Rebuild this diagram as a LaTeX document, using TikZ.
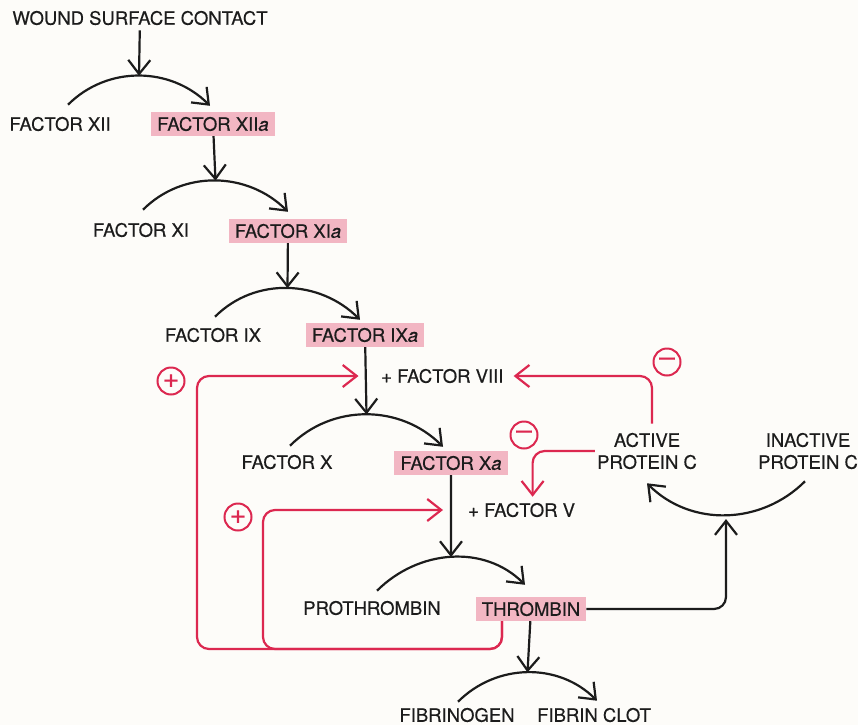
\documentclass[tikz,border=0pt]{standalone}
\usepackage{fontspec}
\setmainfont{TeX Gyre Heros}[FakeBold=0.35]
\usetikzlibrary{arrows.meta,positioning}
\definecolor{clotred}{HTML}{DC2850}
\definecolor{clotpink}{HTML}{F2B6C3}
\definecolor{ink}{HTML}{1C1C1C}
\definecolor{paper}{HTML}{FDFCF9}

\begin{document}
\begin{tikzpicture}[x=1pt, y=1pt,
  every node/.style={font=\fontsize{18.5}{22}\selectfont, text=ink, inner sep=0pt, align=center},
  active/.style={fill=clotpink, inner xsep=6pt, minimum height=24pt},
  arr/.style={draw=ink, line width=2.2pt, -{Straight Barb[length=14pt,width=22pt]}},
  feed/.style={draw=clotred, line width=2.2pt, rounded corners=12pt, -{Straight Barb[length=14pt,width=22pt]}},
  sign/.style={circle, draw=clotred, line width=2pt, minimum size=27pt, text=clotred, font=\fontsize{28}{28}\selectfont}]
\path[use as bounding box, fill=paper] (0,0) rectangle (858,-725);

% cascade
\node (wound) at (140,-18) {WOUND SURFACE CONTACT};
\node (f12) at (60,-124) {FACTOR XII};
\node[active] (f12a) at (213,-124) {FACTOR XII\textit{a}};
\node (f11) at (141,-230) {FACTOR XI};
\node[active] (f11a) at (288,-231) {FACTOR XI\textit{a}};
\node (f9) at (213,-335) {FACTOR IX};
\node[active] (f9a) at (365,-335) {FACTOR IX\textit{a}};
\node[anchor=west] (f8) at (381,-376) {+ FACTOR VIII};
\node (f10) at (287,-462) {FACTOR X};
\node[active] (f10a) at (451,-463) {FACTOR X\textit{a}};
\node[anchor=west] (f5) at (468,-510) {+ FACTOR V};
\node (proth) at (372,-608) {PROTHROMBIN};
\node[active] (thr) at (531,-609) {THROMBIN};
\node (fgen) at (457,-715) {FIBRINOGEN};
\node (clot) at (594,-715) {FIBRIN CLOT};
\node (apc) at (647,-451) {ACTIVE\\PROTEIN C};
\node (ipc) at (808,-451) {INACTIVE\\PROTEIN C};

% signs
\node[sign] (plus1) at (171,-381) {+};
\node[sign] (plus2) at (238,-517) {+};
\node[sign] (minus1) at (667,-362) {–};
\node[sign] (minus2) at (524,-435) {–};

% conversions
\draw[arr] ([xshift=8pt,yshift=12pt]f12.north) to[out=45,in=135] coordinate[pos=.5] (k1) ([xshift=-3pt,yshift=6pt]f12a.north);
\draw[arr] ([xshift=2pt,yshift=13pt]f11.north) to[out=45,in=135] coordinate[pos=.5] (k2) ([yshift=7pt]f11a.north);
\draw[arr] ([xshift=2pt,yshift=11pt]f9.north) to[out=45,in=135] coordinate[pos=.5] (k3) ([xshift=-5pt,yshift=3pt]f9a.north);
\draw[arr] ([xshift=3pt,yshift=9pt]f10.north) to[out=45,in=135] coordinate[pos=.5] (k4) ([xshift=-8pt,yshift=4pt]f10a.north);
\draw[arr] ([xshift=5pt,yshift=10pt]proth.north) to[out=45,in=135] coordinate[pos=.5] (k5) ([xshift=-6pt,yshift=12pt]thr.north);
\draw[arr] ([xshift=1pt,yshift=6pt]fgen.north) to[out=45,in=135] coordinate[pos=.5] (k6) ([xshift=3pt,yshift=7pt]clot.north);
\draw[arr] ([xshift=-3pt,yshift=-12pt]ipc.south) to[out=225,in=-45] coordinate[pos=.5] (kc) ([yshift=-14pt]apc.south);

% activations
\draw[arr, shorten <=5pt] (wound) -- (k1); \draw[arr] (f12a) -- (k2); \draw[arr] (f11a) -- (k3);
\draw[arr] (f9a) -- (k4); \draw[arr] (f10a) -- (k5); \draw[arr] (thr) -- (k6);
\draw[arr, rounded corners=12pt, shorten >=4pt] (thr) -| (kc);

% feedback
\coordinate (j8) at (k4 |- f8); \coordinate (j5) at (k5 |- f5);
\draw[feed] ([xshift=-29pt]thr.south) |- (197,-649) |- ([xshift=-8pt]j8);
\draw[feed] ([xshift=-29pt]thr.south) |- (263,-649) |- ([xshift=-8pt]j5);
\draw[feed] ([xshift=5pt,yshift=9pt]apc.north) |- ([xshift=10pt]f8.east);
\draw[feed] ([xshift=-2pt]apc.west) -| ([xshift=11pt,yshift=6pt]f5.north);
\end{tikzpicture}
\end{document}
